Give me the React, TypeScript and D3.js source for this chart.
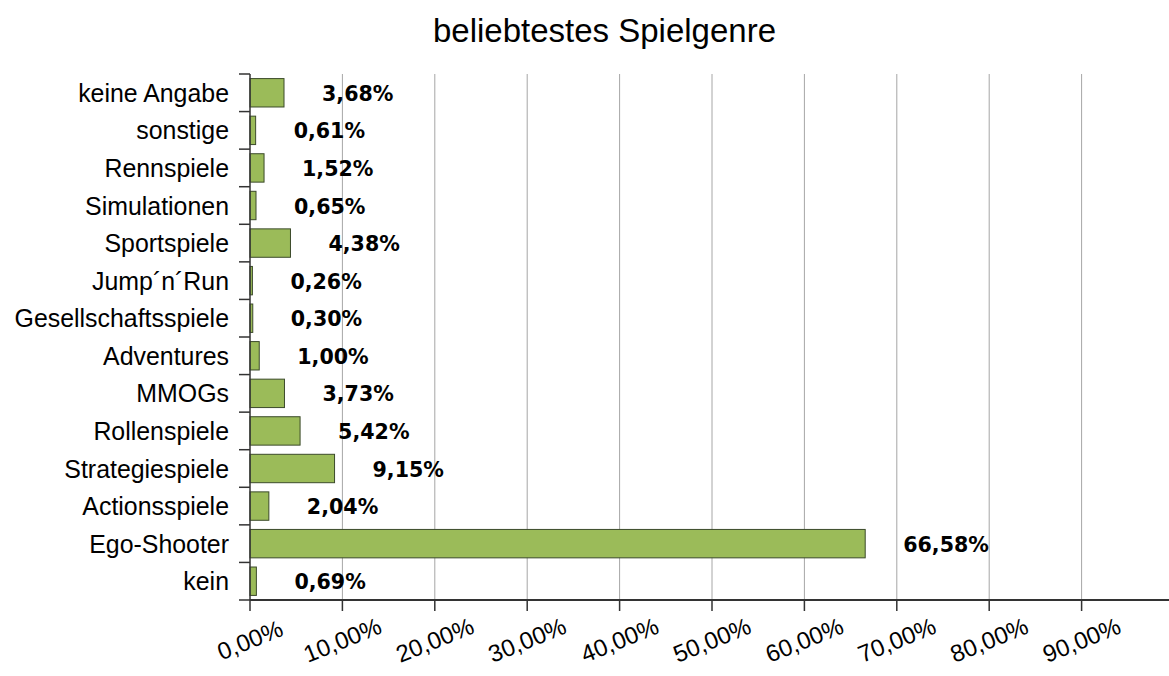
import React from "react";
import * as d3 from "d3";

const categories = [
  "keine Angabe",
  "sonstige",
  "Rennspiele",
  "Simulationen",
  "Sportspiele",
  "Jump´n´Run",
  "Gesellschaftsspiele",
  "Adventures",
  "MMOGs",
  "Rollenspiele",
  "Strategiespiele",
  "Actionsspiele",
  "Ego-Shooter",
  "kein",
];
const values = [3.68, 0.61, 1.52, 0.65, 4.38, 0.26, 0.3, 1.0, 3.73, 5.42, 9.15, 2.04, 66.58, 0.69];
const xTickValues = [0, 10, 20, 30, 40, 50, 60, 70, 80, 90];
const title = "beliebtestes Spielgenre";

const W = 1169;
const H = 676;
const left = 250;
const top = 74;
const bottom = 600;

const fmt = (v: number) => v.toFixed(2).replace(".", ",") + "%";

export default function App() {
  const x = d3.scaleLinear().domain([0, 100]).range([left, left + 924]);
  const yb = d3.scaleBand<string>().domain(categories).range([top, bottom]);
  const boundaries = d3.range(categories.length + 1).map((i) => top + i * yb.step());
  const barH = yb.bandwidth() * 0.756;

  return (
    <svg
      width={W}
      height={H}
      style={{ position: "absolute", left: 0, top: 0, background: "#fff" }}
      fontFamily="'Liberation Sans', Arial, sans-serif"
    >
      <rect x={0} y={0} width={W} height={H} fill="#fff" />
      <text x={604.5} y={42} textAnchor="middle" fontSize={33} fill="#000">
        {title}
      </text>
      {/* gridlines */}
      {xTickValues.slice(1).concat([100]).map((t) => (
        <line key={"g" + t} x1={x(t)} x2={x(t)} y1={top} y2={bottom} stroke="#a6a6a6" strokeWidth={1} />
      ))}
      {/* bars */}
      {categories.map((c, i) => {
        const yc = (yb(c) as number) + yb.bandwidth() / 2;
        return (
          <g key={c}>
            <rect
              x={x(0)}
              y={yc - barH / 2}
              width={x(values[i]) - x(0)}
              height={barH}
              fill="#9BBB59"
              stroke="#3b4a2a"
              strokeWidth={1}
            />
            <text
              x={x(values[i]) + 38}
              y={yc + 8}
              fontFamily="'DejaVu Sans', Verdana, sans-serif"
              fontWeight="bold"
              fontSize={20.6}
              fill="#000"
            >
              {fmt(values[i])}
            </text>
            <text x={229} y={yc + 9} textAnchor="end" fontSize={24.9} fill="#000">
              {c}
            </text>
          </g>
        );
      })}
      {/* y axis */}
      <line x1={left} x2={left} y1={top} y2={bottom} stroke="#333" strokeWidth={1.5} />
      {boundaries.map((b, i) => (
        <line key={"yt" + i} x1={239} x2={left} y1={b} y2={b} stroke="#333" strokeWidth={1.5} />
      ))}
      {/* x axis */}
      <line x1={left} x2={W} y1={bottom} y2={bottom} stroke="#333" strokeWidth={2} />
      {xTickValues.map((t) => (
        <g key={"xt" + t}>
          <line x1={x(t)} x2={x(t)} y1={bottom} y2={bottom + 11} stroke="#333" strokeWidth={1.5} />
          <text
            transform={`translate(${x(t)},${640}) rotate(-22)`}
            textAnchor="middle"
            dy="0.35em"
            fontSize={24}
            fill="#000"
          >
            {fmt(t)}
          </text>
        </g>
      ))}
    </svg>
  );
}
